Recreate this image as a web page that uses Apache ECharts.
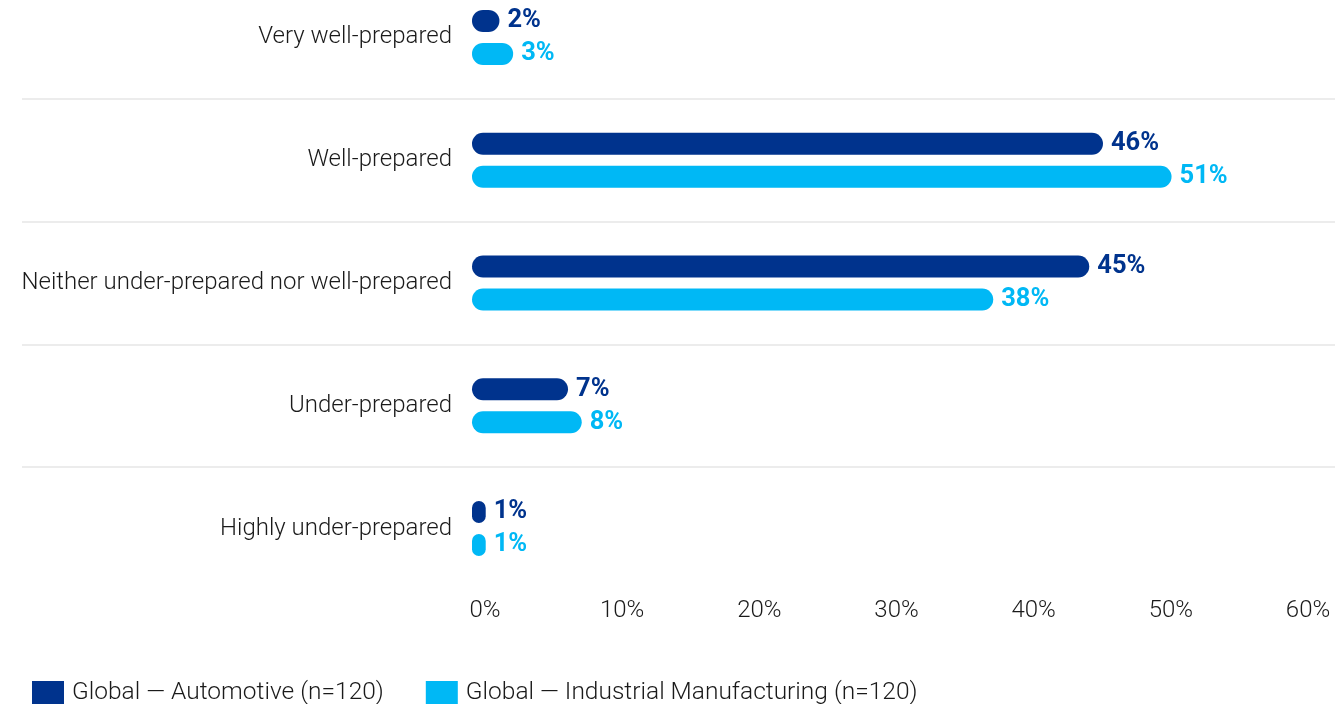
<!DOCTYPE html>
<html>
<head>
<meta charset="utf-8">
<script src="https://cdn.jsdelivr.net/npm/echarts@6/dist/echarts.min.js"></script>
<style>
html,body{margin:0;padding:0;background:#fff;overflow:hidden;}
#chart{position:absolute;left:0;top:-24.5px;width:1343px;height:729px;}
</style>
</head>
<body>
<div id="chart"></div>
<script>
const categories = ['Very well-prepared', 'Well-prepared', 'Neither under-prepared nor well-prepared', 'Under-prepared', 'Highly under-prepared'];
const automotive = [2, 46, 45, 7, 1];
const industrial = [3, 51, 38, 8, 1];
const seriesNames = ['Global \u2014 Automotive (n=120)', 'Global \u2014 Industrial Manufacturing (n=120)'];
const xTicks = [0, 10, 20, 30, 40, 50, 60];

const DARK = '#00338D';
const LIGHT = '#00B8F5';
const FONT = 'Roboto';
const OFF = 24.5;

const chart = echarts.init(document.getElementById('chart'));
const gridTop = 0, gridH = 614;
chart.setOption({
  animation: false,
  grid: [
    {left: 472, right: 48, top: gridTop, height: gridH},
    {left: 22, right: 8, top: gridTop, height: gridH}
  ],
  legend: {
    left: 32, top: 680 + OFF, padding: 0,
    itemWidth: 32, itemHeight: 24, itemGap: 42,
    icon: 'rect',
    textStyle: {fontFamily: FONT, fontWeight: 300, fontSize: 24.5, color: '#1a1a1a', padding: [0, 0, 0, 3]},
    data: seriesNames
  },
  xAxis: [
    {
      gridIndex: 0, type: 'value', min: xTicks[0], max: xTicks[xTicks.length - 1], interval: 10,
      axisLine: {show: false}, axisTick: {show: false}, splitLine: {show: false},
      axisLabel: {
        formatter: '{value}%', margin: 9, fontFamily: FONT, fontWeight: 300, fontSize: 24,
        color: '#1a1a1a', padding: [0, 0, 0, 26]
      }
    },
    {gridIndex: 1, type: 'value', show: false, min: 0, max: 1}
  ],
  yAxis: [
    {
      gridIndex: 0, type: 'category', data: categories, inverse: true,
      axisLine: {show: false}, axisTick: {show: false}, splitLine: {show: false},
      axisLabel: {margin: 20, fontFamily: FONT, fontWeight: 300, fontSize: 24, color: '#1a1a1a'}
    },
    {
      gridIndex: 1, type: 'category', data: categories, inverse: true,
      axisLine: {show: false}, axisTick: {show: false}, axisLabel: {show: false},
      splitLine: {show: true, interval: 0, lineStyle: {width: 1.5, color: ['transparent', '#e6e6e6', '#e6e6e6', '#e6e6e6', '#e6e6e6', 'transparent']}}
    }
  ],
  series: [
    {
      name: seriesNames[0], type: 'bar', xAxisIndex: 0, yAxisIndex: 0,
      data: automotive, barWidth: 22, barGap: '50%',
      itemStyle: {color: DARK, borderRadius: 11},
      label: {show: true, position: 'right', distance: 8, formatter: '{c}%', fontFamily: FONT, fontWeight: 'bold', fontSize: 25.5, color: DARK}
    },
    {
      name: seriesNames[1], type: 'bar', xAxisIndex: 0, yAxisIndex: 0,
      data: industrial, barWidth: 22, barGap: '50%',
      itemStyle: {color: LIGHT, borderRadius: 11},
      label: {show: true, position: 'right', distance: 8, formatter: '{c}%', fontFamily: FONT, fontWeight: 'bold', fontSize: 25.5, color: LIGHT}
    }
  ]
});
</script>
</body>
</html>
